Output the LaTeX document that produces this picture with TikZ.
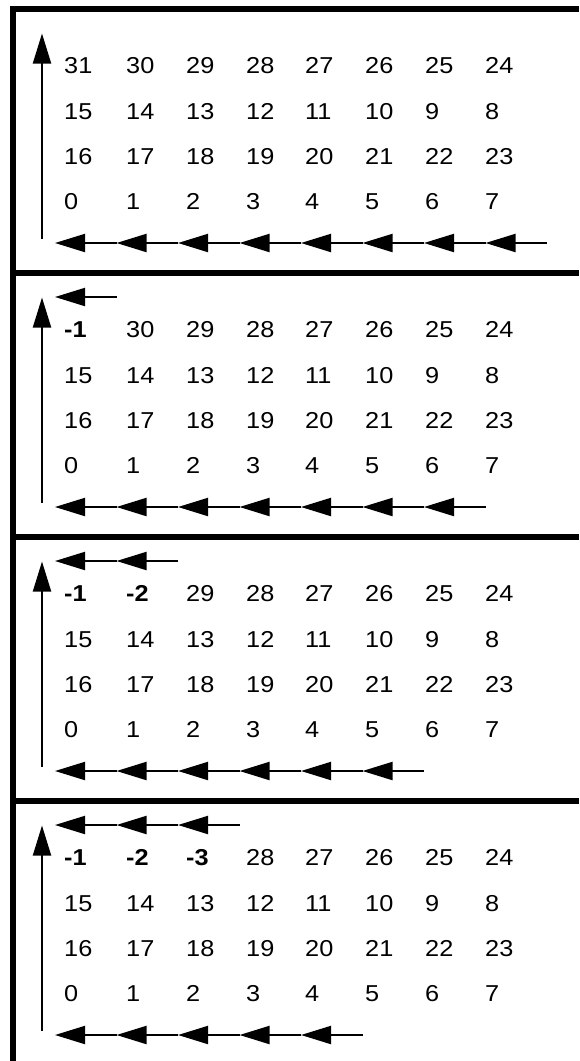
\documentclass[tikz,border=0pt]{standalone}
\usepackage{fontspec}
\setmainfont{Liberation Sans}
\newfontfamily\numfont[FakeStretch=1.1]{Liberation Sans}
\usetikzlibrary{arrows.meta}
\begin{document}
\begin{tikzpicture}[x=1pt,y=-1pt,
  border/.style={line width=6pt},
  flow/.style={line width=2pt,-{Triangle[length=30pt,width=18pt]}},
  num/.style={anchor=base west,inner sep=0pt,font=\numfont\fontsize{23}{27}\selectfont},
  neg/.style={num,font=\numfont\bfseries\fontsize{23}{27}\selectfont}]
\useasboundingbox (0,0) rectangle (579,1061);
% frame
\draw[border] (13,6) -- (13,1061);
\draw[border] (10,9) -- (579,9);
\foreach \s in {273,537,801}{\draw[border] (13,\s) -- (579,\s);}
\foreach \k [evaluate=\k as \top using 9+264*\k] in {0,...,3}{
  % numbers
  \foreach \c/\x/\v in {0/64/31,1/126/30,2/186/29,3/246/28,4/305/27,5/365/26,6/425/25,7/485/24}{
    \ifnum\c<\k
      \pgfmathtruncatemacro\m{\c+1}
      \node[neg] (r1-\k-\c) at (\x,\top+64.2) {-\m};
    \else
      \node[num] (r1-\k-\c) at (\x,\top+64.2) {\v};
    \fi
  }
  \foreach \c/\x/\v in {0/64/15,1/126/14,2/186/13,3/246/12,4/305/11,5/365/10,6/425/9,7/485/8}{
    \node[num] (r2-\k-\c) at (\x,\top+110.2) {\v};
  }
  \foreach \c/\x/\v in {0/64/16,1/126/17,2/186/18,3/246/19,4/305/20,5/365/21,6/425/22,7/485/23}{
    \node[num] (r3-\k-\c) at (\x,\top+155.2) {\v};
  }
  \foreach \c/\x/\v in {0/64/0,1/126/1,2/186/2,3/246/3,4/305/4,5/365/5,6/425/6,7/485/7}{
    \node[num] (r4-\k-\c) at (\x,\top+200.2) {\v};
  }
  % up arrow
  \coordinate (ua\k) at (42,\top+229.5);
  \coordinate (ub\k) at (42,\top+24.5);
  \draw[flow] (ua\k) -- (ub\k);
  % bottom arrows
  \pgfmathtruncatemacro\n{8-\k}
  \foreach \i in {0,...,\n}{
    \coordinate (b\k-\i) at (55+61.5*\i,\top+234);
  }
  \pgfmathtruncatemacro\nn{7-\k}
  \foreach \i in {0,...,\nn}{
    \pgfmathtruncatemacro\j{\i+1}
    \draw[flow] (b\k-\j) -- (b\k-\i);
  }
  % top arrows
  \ifnum\k>0
    \foreach \i in {0,...,\k}{
      \coordinate (t\k-\i) at (55+61.5*\i,\top+24);
    }
    \pgfmathtruncatemacro\kk{\k-1}
    \foreach \i in {0,...,\kk}{
      \pgfmathtruncatemacro\j{\i+1}
      \draw[flow] (t\k-\j) -- (t\k-\i);
    }
  \fi
}
\end{tikzpicture}
\end{document}
